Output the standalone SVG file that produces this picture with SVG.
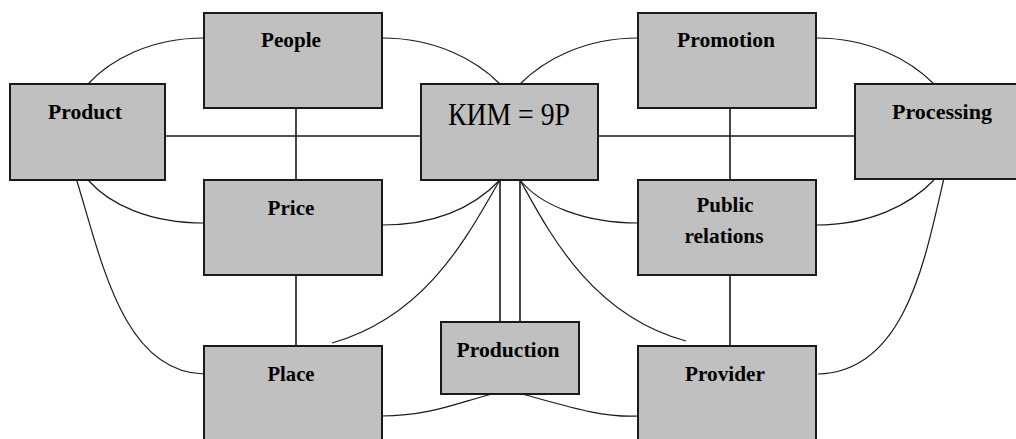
<svg xmlns="http://www.w3.org/2000/svg" width="1016" height="439" viewBox="0 0 1016 439">
<style>
.box{fill:#c0c0c0;stroke:#1a1a1a;stroke-width:2}
.lbl{font-family:"Liberation Serif","Times New Roman",serif;font-weight:bold;font-size:21px;fill:#000;text-anchor:middle}
.main{font-family:"Liberation Serif","Times New Roman",serif;font-size:31px;fill:#000;text-anchor:middle}
.ln{stroke:#1a1a1a;stroke-width:1.6;fill:none}
.cv{stroke:#1a1a1a;stroke-width:1.2;fill:none}
</style>
<rect width="1016" height="439" fill="#fff"/>
<g id="connectors">
<line class="ln" x1="165" y1="136" x2="421" y2="136"/>
<line class="ln" x1="598" y1="136" x2="855" y2="136"/>
<line class="ln" x1="296" y1="108" x2="296" y2="180"/>
<line class="ln" x1="730" y1="108" x2="730" y2="180"/>
<line class="ln" x1="296" y1="275" x2="296" y2="346"/>
<line class="ln" x1="730" y1="275" x2="730" y2="346"/>
<line class="ln" x1="500" y1="180" x2="500" y2="322"/>
<line class="ln" x1="520" y1="180" x2="520" y2="322"/>
<path class="cv" d="M88,84 C110,60 150,38 204,38"/>
<path class="cv" d="M382,38 C436,38 476,60 500,84"/>
<path class="cv" d="M520,84 C544,60 584,38 638,38"/>
<path class="cv" d="M816,38 C870,38 910,60 934,84"/>
<path class="cv" d="M88,180 C110,205 150,223 204,223"/>
<path class="cv" d="M76,178 C101,258 122,372 204,374"/>
<path class="cv" d="M382,225 C440,225 476,205 500,180"/>
<path class="cv" d="M500,180 C470,230 430,315 332,343"/>
<path class="cv" d="M520,180 C540,205 584,223 638,223"/>
<path class="cv" d="M520,180 C548,230 590,315 686,341"/>
<path class="cv" d="M934,180 C910,205 870,225 816,225"/>
<path class="cv" d="M944,178 C925,260 905,372 818,374"/>
<path class="cv" d="M382,416 C430,416 460,402 492,394"/>
<path class="cv" d="M522,394 C560,404 600,418 638,416"/>
</g>
<g id="people"><rect class="box" x="204" y="13" width="178" height="95"/><text class="lbl" x="291" y="47" textLength="60" lengthAdjust="spacingAndGlyphs">People</text></g>
<g id="product"><rect class="box" x="10" y="84" width="155" height="96"/><text class="lbl" x="85" y="119" textLength="74" lengthAdjust="spacingAndGlyphs">Product</text></g>
<g id="kim"><rect class="box" x="421" y="84" width="177" height="96"/><text class="main" x="509" y="125" textLength="122" lengthAdjust="spacingAndGlyphs">КИМ = 9Р</text></g>
<g id="promotion"><rect class="box" x="638" y="13" width="178" height="95"/><text class="lbl" x="726" y="47" textLength="98" lengthAdjust="spacingAndGlyphs">Promotion</text></g>
<g id="processing"><rect class="box" x="855" y="84" width="170" height="95"/><text class="lbl" x="942" y="119" textLength="100" lengthAdjust="spacingAndGlyphs">Processing</text></g>
<g id="price"><rect class="box" x="204" y="180" width="178" height="95"/><text class="lbl" x="291" y="215" textLength="47" lengthAdjust="spacingAndGlyphs">Price</text></g>
<g id="public-relations"><rect class="box" x="638" y="180" width="178" height="95"/><text class="lbl" x="725" y="212" textLength="57" lengthAdjust="spacingAndGlyphs">Public</text><text class="lbl" x="724" y="243" textLength="79" lengthAdjust="spacingAndGlyphs">relations</text></g>
<g id="production"><rect class="box" x="441" y="322" width="138" height="72"/><text class="lbl" x="508" y="357" textLength="103" lengthAdjust="spacingAndGlyphs">Production</text></g>
<g id="place"><rect class="box" x="204" y="346" width="178" height="104"/><text class="lbl" x="291" y="381" textLength="47" lengthAdjust="spacingAndGlyphs">Place</text></g>
<g id="provider"><rect class="box" x="638" y="346" width="178" height="104"/><text class="lbl" x="725" y="381" textLength="80" lengthAdjust="spacingAndGlyphs">Provider</text></g>
</svg>
